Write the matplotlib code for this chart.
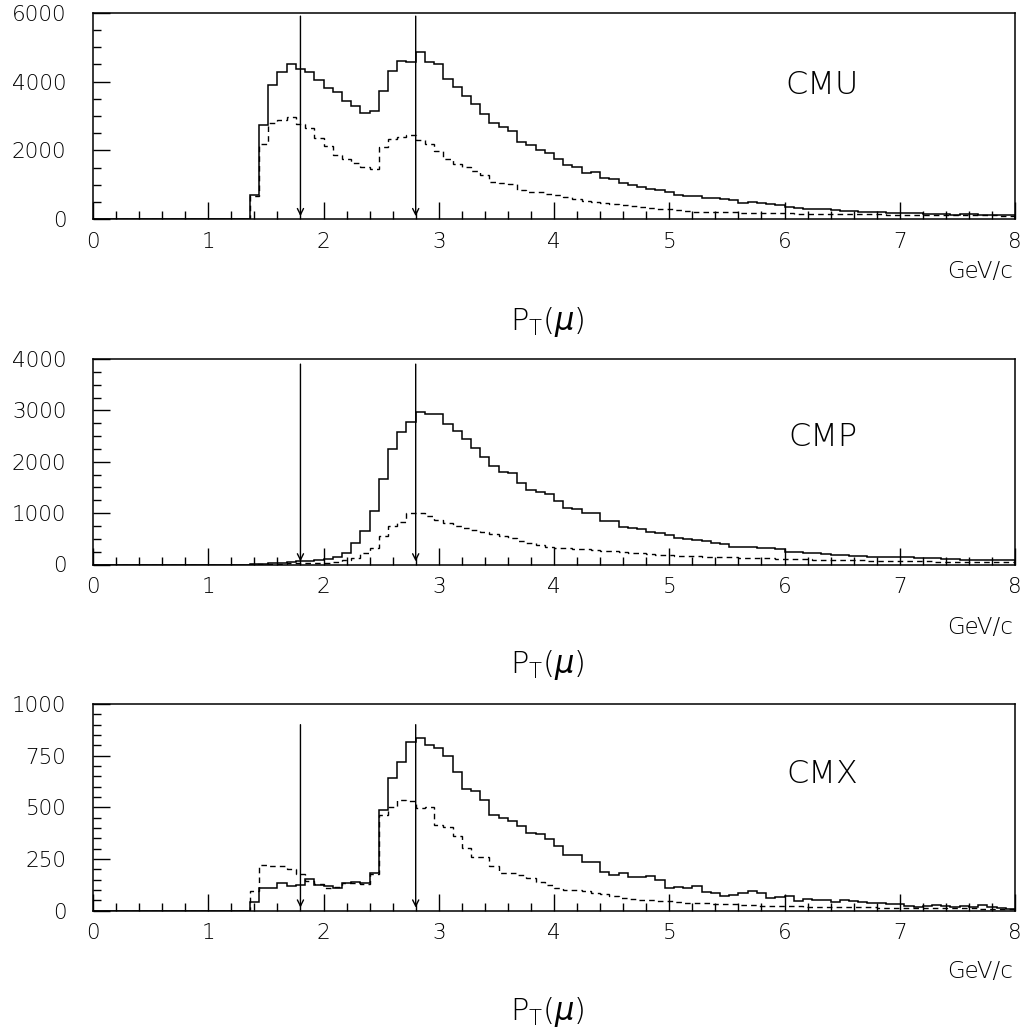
import numpy as np
import matplotlib
matplotlib.use("Agg")
import matplotlib.pyplot as plt
from matplotlib.ticker import MultipleLocator

plt.rcParams.update({
    "font.family": "DejaVu Sans", "font.weight": "light",
    "mathtext.fontset": "custom", "mathtext.rm": "DejaVu Sans:light",
    "mathtext.it": "DejaVu Sans:italic:light",
    "axes.linewidth": 1.1, "xtick.direction": "in", "ytick.direction": "in",
})

# 100 bins of 0.08 GeV/c from 0 to 8; bins below 1.36 GeV/c are empty
EDGES = np.linspace(0, 8, 101)
ZEROS = [0] * 17

CMU_SOLID = ZEROS + [
    700, 2740, 3900, 4290, 4500, 4360, 4290, 4050, 3820, 3710, 3440, 3290, 3100, 3150, 3730, 4320,
    4610, 4560, 4870, 4580, 4510, 4070, 3850, 3580, 3340, 3060, 2810, 2690, 2575, 2255, 2170,
    2014, 1917, 1743, 1578, 1510, 1355, 1375, 1191, 1162, 1045, 997, 949, 881, 852, 784, 707,
    687, 678, 629, 610, 581, 561, 484, 494, 465, 436, 416, 368, 339, 310, 310, 290, 271, 252,
    252, 223, 223, 203, 194, 194, 174, 174, 165, 165, 145, 126, 145, 145, 126, 116, 116, 116]
CMU_DASHED = ZEROS + [
    690, 2190, 2810, 2870, 2980, 2770, 2640, 2370, 2130, 1870, 1740, 1630, 1530, 1450, 2110, 2320,
    2400, 2450, 2300, 2190, 1970, 1740, 1610, 1530, 1410, 1290, 1090, 1065, 1026, 852, 803,
    780, 740, 707, 650, 590, 540, 490, 480, 450, 416, 400, 368, 340, 310, 290, 260, 240, 225,
    223, 220, 215, 205, 195, 185, 180, 174, 174, 170, 165, 160, 155, 150, 148, 145, 145, 145,
    143, 140, 135, 130, 128, 125, 120, 118, 116, 116, 116, 115, 115, 112, 110, 110]

CMP_SOLID = ZEROS + [
    10, 16, 23, 36, 49, 62, 75, 88, 114, 140, 218, 412, 659, 1042, 1659, 2243, 2588, 2769, 2977,
    2925, 2925, 2731, 2607, 2438, 2263, 2101, 1919, 1808, 1776, 1581, 1451,
    1419, 1367, 1243, 1107, 1081, 997, 997, 854, 854, 737, 717, 691, 627, 607, 575, 510, 490,
    477, 458, 425, 399, 347, 347, 347, 328, 315, 302, 250, 237, 230, 218, 205, 185, 185, 172,
    172, 153, 153, 153, 140, 140, 133, 120, 120, 107, 107, 88, 88, 88, 88, 88, 88]
CMP_DASHED = ZEROS + [
    5, 8, 12, 15, 20, 25, 30, 33, 36, 55, 88, 133, 230, 315, 562, 756, 834, 997, 997, 945, 867,
    815, 756, 705, 672, 640, 594, 562, 510, 458, 412,
    380, 350, 320, 315, 310, 300, 280, 270, 260, 240, 230, 215, 200, 185, 185, 175, 165, 160,
    155, 150, 145, 140, 135, 125, 120, 118, 115, 110, 105, 100, 95, 90, 90, 85, 85, 80, 75, 75,
    70, 65, 65, 60, 60, 58, 55, 55, 55, 52, 50, 50, 50, 50]

CMX_SOLID = ZEROS + [
    40, 108, 108, 136, 120, 125, 152, 125, 120, 108, 133, 141, 136, 181, 489, 642, 718, 816, 837,
    804, 785, 748, 672, 589, 578, 537, 464, 448, 432, 408, 375,
    370, 346, 311, 270, 270, 238, 238, 189, 173, 181, 162, 165, 168, 149, 112, 113, 108, 120,
    92, 84, 71, 76, 84, 95, 87, 63, 65, 73, 49, 55, 52, 52, 40, 52, 49, 44, 36, 36, 31, 32, 23,
    19, 23, 28, 23, 19, 23, 19, 28, 19, 11, 8]
CMX_DASHED = ZEROS + [
    95, 222, 217, 214, 201, 178, 146, 129, 108, 113, 136, 133, 129, 178, 464, 500, 534, 529, 497,
    502, 416, 405, 362, 303, 259, 262, 214, 181, 184, 175, 160,
    140, 125, 110, 100, 100, 95, 88, 80, 70, 60, 55, 50, 50, 48, 45, 40, 38, 36, 35, 32, 30, 30,
    28, 27, 25, 25, 24, 22, 22, 20, 20, 20, 18, 18, 18, 16, 16, 15, 15, 14, 14, 13, 13, 12, 12,
    12, 11, 11, 10, 10, 10, 10]

CUTS = [1.8, 2.8]

PANELS = [
    # name, solid, dashed, ymax, major, minor, label y, arrow top
    ("CMU", CMU_SOLID, CMU_DASHED, 6000, 2000, 500, 3900, 5900),
    ("CMP", CMP_SOLID, CMP_DASHED, 4000, 1000, 250, 2480, 3900),
    ("CMX", CMX_SOLID, CMX_DASHED, 1000, 250, 50, 660, 900),
]
# axes boxes in pixels (top, bottom) and text rows (GeV/c, P_T)
W, H = 1026, 1034
BOXES = [(12.7, 219.3), (359, 564.5), (704, 910.7)]
TEXT_ROWS = [(272, 322), (628, 665), (972, 1012)]

fig = plt.figure(figsize=(W / 100, H / 100), dpi=100)
for (name, solid, dashed, ymax, major, minor, ylab, atop), (top, bot), (gy, py) in zip(PANELS, BOXES, TEXT_ROWS):
    ax = fig.add_axes([93 / W, 1 - bot / H, (1015 - 93) / W, (bot - top) / H])
    ax.stairs(solid, EDGES, color="black", lw=1.1)
    ax.stairs(dashed, EDGES, color="black", lw=1.0, linestyle=(0, (4, 3)))
    for c in CUTS:
        ax.annotate("", xy=(c, ymax * 0.015), xytext=(c, atop),
                    arrowprops=dict(arrowstyle="->", lw=1.0, color="black",
                                    mutation_scale=11, shrinkA=0, shrinkB=0))
    ax.set_xlim(0, 8)
    ax.set_ylim(0, ymax)
    ax.xaxis.set_major_locator(MultipleLocator(1))
    ax.xaxis.set_minor_locator(MultipleLocator(0.2))
    ax.yaxis.set_major_locator(MultipleLocator(major))
    ax.yaxis.set_minor_locator(MultipleLocator(minor))
    ax.tick_params(which="major", length=12, width=1.0, labelsize=15.5, pad=9)
    ax.tick_params(axis="y", which="major", pad=19)
    ax.tick_params(which="minor", length=5.5, width=1.0)
    ax.text(6.33, ylab, name, fontsize=23, ha="center", va="center")
    fig.text(1013 / W, 1 - gy / H, "GeV/c", fontsize=16.5, ha="right", va="center")
    fig.text(547 / W, 1 - py / H, r"P$_\mathregular{T}$($\mathit{\mu}$)", fontsize=22, ha="center", va="center")

fig.savefig("out.png", dpi=100)
